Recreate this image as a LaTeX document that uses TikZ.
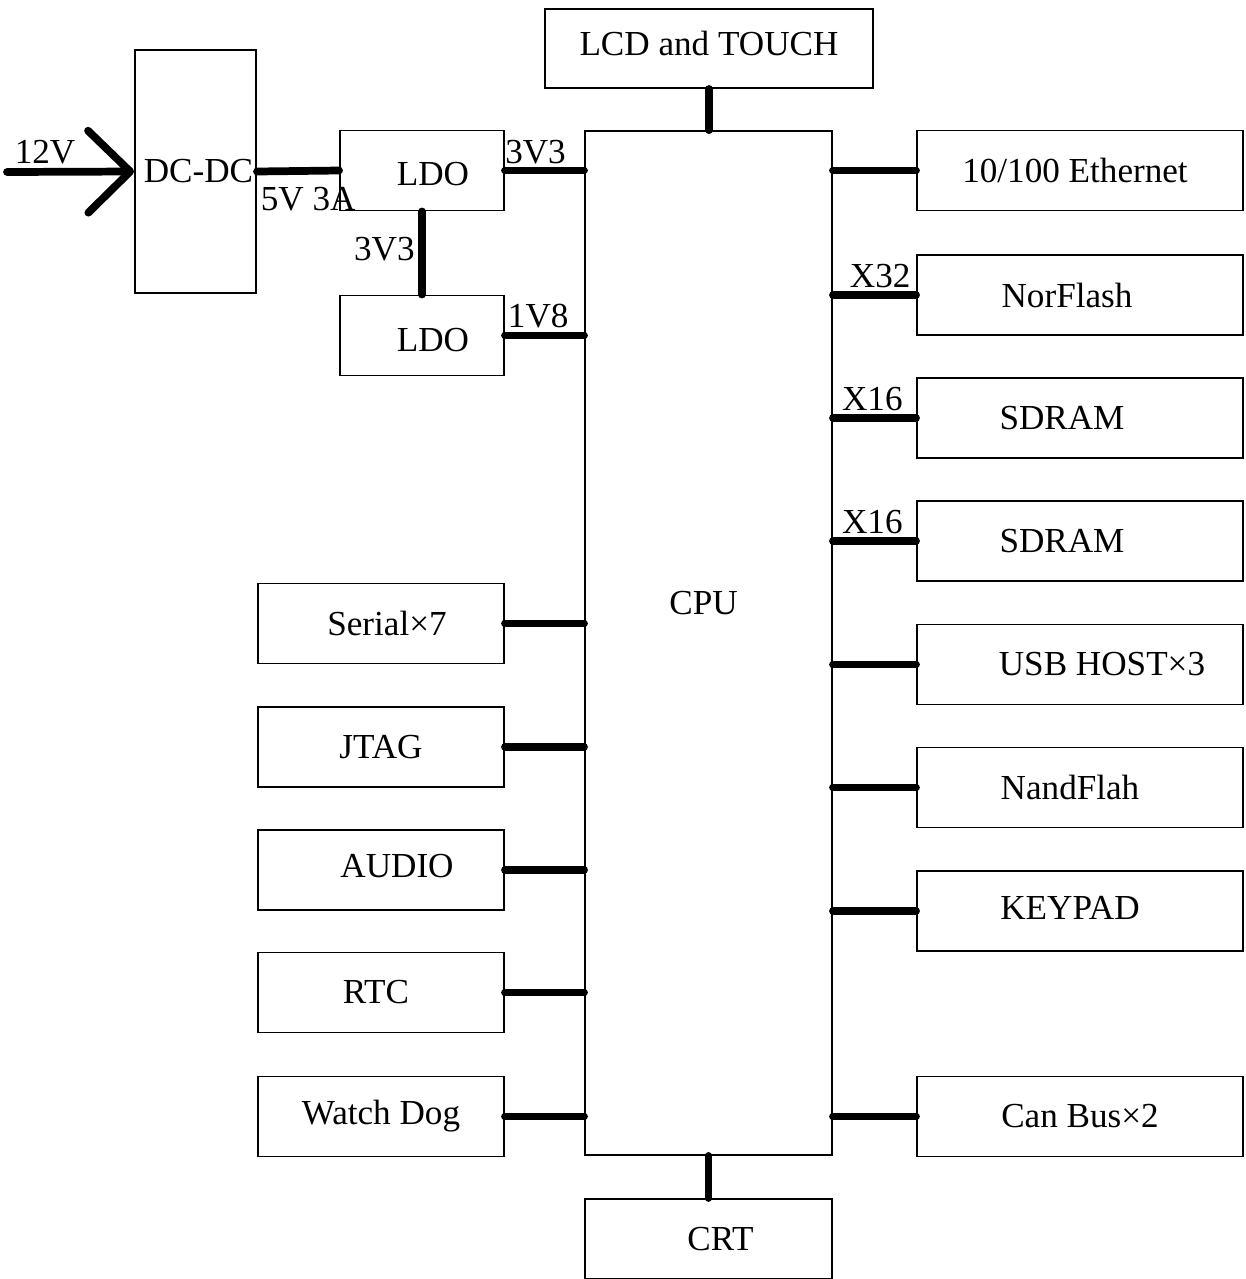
\documentclass[tikz,border=0pt]{standalone}
\usepackage{fontspec}
\setmainfont{Liberation Serif}
\usetikzlibrary{arrows.meta, positioning}

\begin{document}
\begin{tikzpicture}[x=0.02cm, y=-0.02cm,
  every node/.style={font=\fontsize{20}{24}\selectfont},
  b/.style={draw, line width=1.1pt, inner sep=0pt, minimum height=1.6cm},
  lb/.style={b, minimum width=4.92cm},
  rb/.style={b, minimum width=6.52cm},
  w/.style={line width=4.4pt, line cap=round},
  v/.style={inner sep=1pt}]
\useasboundingbox (0,0) rectangle (1246,1279);
% power
\node[b, minimum width=2.42cm, minimum height=4.86cm, label={[anchor=west, xshift=2pt]west:DC-DC}] (dcdc) at (195.5,171.5) {};
\node[b, minimum width=3.28cm, label={[xshift=0.22cm, yshift=-0.08cm]center:LDO}] (ldoA) at (422,170.5) {};
\node[b, minimum width=3.28cm, label={[xshift=0.22cm, yshift=-0.1cm]center:LDO}] (ldoB) at (422,335.5) {};
% cpu
\node[b, minimum width=4.94cm, minimum height=20.48cm, label={[xshift=-0.1cm, yshift=0.8cm]center:CPU}] (cpu) at (708.5,643) {};
\node[b, minimum width=6.56cm, minimum height=1.58cm, label={[yshift=0.1cm]center:LCD and TOUCH}] (lcd) at (709,48.5) {};
\node[b, minimum width=4.94cm, label={[xshift=0.24cm]center:CRT}] (crt) at (708.5,1239) {};
% right side
\node[rb, label={[xshift=-0.1cm]center:10/100 Ethernet}] (eth) at (1080,170.5) {};
\node[rb, label={[xshift=-0.26cm]center:NorFlash}] (nor) at (1080,295) {};
\node[rb, label={[xshift=-0.36cm]center:SDRAM}] (sda) at (1080,418) {};
\node[rb, label={[xshift=-0.36cm]center:SDRAM}] (sdb) at (1080,541) {};
\node[rb, label={[xshift=0.44cm]center:USB HOST×3}] (usb) at (1080,664.5) {};
\node[rb, label={[xshift=-0.2cm]center:NandFlah}] (nand) at (1080,787.5) {};
\node[rb, label={[xshift=-0.2cm, yshift=0.06cm]center:KEYPAD}] (key) at (1080,911) {};
\node[rb] (can) at (1080,1116.5) {Can Bus×2};
% left side
\node[lb, label={[xshift=0.12cm]center:Serial×7}] (ser) at (381,623.5) {};
\node[lb] (jtag) at (381,747) {JTAG};
\node[lb, label={[xshift=0.32cm, yshift=0.08cm]center:AUDIO}] (aud) at (381,870) {};
\node[lb, label={[xshift=-0.1cm]center:RTC}] (rtc) at (381,992.5) {};
\node[lb] (wdog) at (381,1116.5) {Watch Dog};
% wires
\coordinate (in) at (7,172);
\draw[w, -{Straight Barb[length=0.84cm, width=1.64cm, round]}] (in) -- node[v, above=1pt, pos=0.3]{12V} (dcdc.west);
\draw[w] (dcdc.east) -- node[v, pos=0, anchor=north west, yshift=-6pt, xshift=-1pt]{5V 3A} (ldoA.west);
\draw[w] (ldoA.east) -- node[v, pos=0, anchor=south west, xshift=-3pt, yshift=0.5pt]{3V3} (ldoA.east -| cpu.west);
\draw[w] (ldoA.south) -- node[v, left=1pt, yshift=2pt]{3V3} (ldoB.north);
\draw[w] (ldoB.east) -- node[v, pos=0, anchor=south west, xshift=-1.5pt, yshift=1pt]{1V8} (ldoB.east -| cpu.west);
\draw[w] (lcd.south) -- (lcd.south |- cpu.north);
\draw[w] (crt.north) -- (crt.north |- cpu.south);
\draw[w] (nor.west) -- node[v, pos=0, anchor=south east, xshift=0pt, yshift=1pt]{X32} (nor.west -| cpu.east);
\draw[w] (sda.west -| cpu.east) -- node[v, pos=0, anchor=south west, xshift=2pt, yshift=1pt]{X16} (sda.west);
\draw[w] (sdb.west -| cpu.east) -- node[v, pos=0, anchor=south west, xshift=2pt, yshift=1pt]{X16} (sdb.west);
\foreach \n in {eth,usb,nand,key,can}
  \draw[w] (\n.west) -- (\n.west -| cpu.east);
\foreach \n in {ser,jtag,aud,rtc,wdog}
  \draw[w] (\n.east) -- (\n.east -| cpu.west);
\end{tikzpicture}
\end{document}
